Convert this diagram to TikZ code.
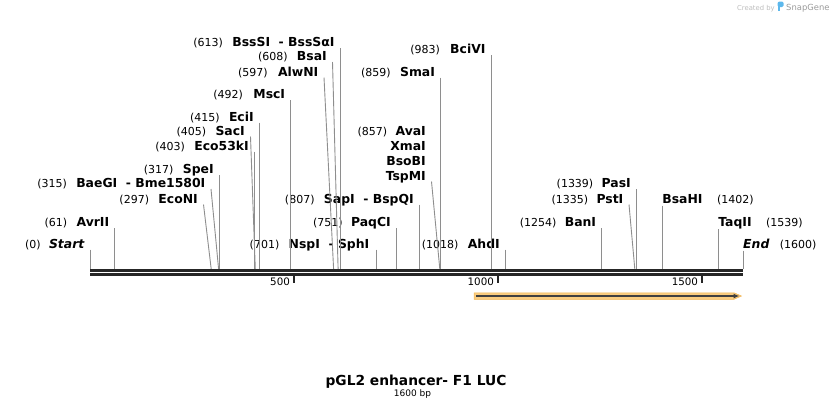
\documentclass[tikz,border=0pt]{standalone}
\usepackage{fontspec}
\setmainfont{DejaVu Sans}
\usepackage{tikz}
\usetikzlibrary{arrows.meta,positioning,calc}
\definecolor{SiteLine}{HTML}{8E8E8E}
\definecolor{MapDark}{HTML}{262626}
\definecolor{LucGlow}{HTML}{FACD80}
\definecolor{LucEdge}{HTML}{F0B555}
\definecolor{LucLine}{HTML}{404040}
\definecolor{MarkGrey}{HTML}{BDBDBD}
\definecolor{MarkDark}{HTML}{9A9A9A}
\definecolor{MarkBlue}{HTML}{5DB8EC}
\tikzset{
  enz/.style={inner sep=0pt,font=\fontsize{12.4}{14}\selectfont\bfseries},
  enzend/.style={inner sep=0pt,font=\fontsize{12.4}{14}\selectfont\bfseries\itshape},
  sitenum/.style={inner sep=0pt,font=\fontsize{11}{13}\selectfont},
  cutline/.style={draw=SiteLine,line width=.9pt},
  mapaxis/.style={draw=MapDark,line width=2.9pt,double=white,double distance=1pt},
  scaletick/.style={draw=MapDark,line width=1.6pt},
  ticklbl/.style={inner sep=0pt,font=\fontsize{10.3}{12}\selectfont},
  lucglow/.style={fill=LucGlow,draw=LucEdge,line width=.5pt},
  lucarrow/.style={-{Latex[length=6pt,width=5pt]},draw=LucLine,line width=1.5pt},
  maptitle/.style={inner sep=0pt,font=\fontsize{13.8}{16}\selectfont\bfseries},
  mapsize/.style={inner sep=0pt,font=\fontsize{9}{11}\selectfont},
  wmark/.style={inner sep=0pt,text=MarkGrey,font=\fontsize{6.8}{8}\selectfont}
}
\begin{document}
\begin{tikzpicture}[x=1pt,y=-1pt]
  \useasboundingbox (0,0) rectangle (834,408);
  \coordinate (s0) at (90,269);
  \coordinate (s61) at (114.9,269);
  \coordinate (s297) at (211.2,269);
  \coordinate (s315) at (218.6,269);
  \coordinate (s317) at (219.4,269);
  \coordinate (s403) at (254.5,269);
  \coordinate (s405) at (255.3,269);
  \coordinate (s415) at (259.4,269);
  \coordinate (s492) at (290.8,269);
  \coordinate (s597) at (333.6,269);
  \coordinate (s608) at (338.1,269);
  \coordinate (s613) at (340.2,269);
  \coordinate (s701) at (376.1,269);
  \coordinate (s751) at (396.5,269);
  \coordinate (s807) at (419.4,269);
  \coordinate (s857) at (439.8,269);
  \coordinate (s859) at (440.6,269);
  \coordinate (s983) at (491.2,269);
  \coordinate (s1018) at (505.5,269);
  \coordinate (s1254) at (601.8,269);
  \coordinate (s1335) at (634.8,269);
  \coordinate (s1339) at (636.5,269);
  \coordinate (s1402) at (662.2,269);
  \coordinate (s1539) at (718.1,269);
  \coordinate (s1600) at (743,269);

  \node[enzend,anchor=base east] (start) at (84.5,248) {Start};
  \node[sitenum,base left=8pt of start] (startn) {(0)};
  \node[enz,anchor=base east] (avr) at (109.4,226.5) {AvrII};
  \node[sitenum,base left=9pt of avr] (avrn) {(61)};
  \node[enz,anchor=base east] (econ) at (198,203) {EcoNI};
  \node[sitenum,base left=9pt of econ] (econn) {(297)};
  \node[enz,anchor=base east] (baeg) at (205.5,187.5) {BaeGI\ \ - Bme1580I};
  \node[sitenum,base left=9pt of baeg] (baegn) {(315)};
  \node[enz,anchor=base east] (spe) at (213.9,173.5) {SpeI};
  \node[sitenum,base left=9pt of spe] (spen) {(317)};
  \node[enz,anchor=base east] (eco53) at (249,150) {Eco53kI};
  \node[sitenum,base left=9pt of eco53] (eco53n) {(403)};
  \node[enz,anchor=base east] (sac) at (245,135) {SacI};
  \node[sitenum,base left=9pt of sac] (sacn) {(405)};
  \node[enz,anchor=base east] (eci) at (253.9,121) {EciI};
  \node[sitenum,base left=9pt of eci] (ecin) {(415)};
  \node[enz,anchor=base east] (msc) at (285.3,98.5) {MscI};
  \node[sitenum,base left=10pt of msc] (mscn) {(492)};
  \node[enz,anchor=base east] (alwn) at (318.5,76) {AlwNI};
  \node[sitenum,base left=10pt of alwn] (alwnn) {(597)};
  \node[enz,anchor=base east] (bsa) at (327,60.5) {BsaI};
  \node[sitenum,base left=9pt of bsa] (bsan) {(608)};
  \node[enz,anchor=base east] (bsss) at (334.7,46.5) {BssSI\ \ - BssSαI};
  \node[sitenum,base left=9pt of bsss] (bsssn) {(613)};
  \node[enz,anchor=base east] (nsp) at (369.5,248) {NspI\ \ - SphI};
  \node[sitenum,base left=9pt of nsp] (nspn) {(701)};
  \node[enz,anchor=base east] (paqc) at (391,226.5) {PaqCI};
  \node[sitenum,base left=8pt of paqc] (paqcn) {(751)};
  \node[enz,anchor=base east] (sap) at (413.9,203) {SapI\ \ - BspQI};
  \node[sitenum,base left=9pt of sap] (sapn) {(807)};
  \node[enz,anchor=base east] (ava) at (426,135) {AvaI};
  \node[enz,anchor=base east] (xma) at (426,150) {XmaI};
  \node[enz,anchor=base east] (bsob) at (426,165) {BsoBI};
  \node[enz,anchor=base east] (tspm) at (426,180) {TspMI};
  \node[sitenum,base left=8pt of ava] (avan) {(857)};
  \node[enz,anchor=base east] (sma) at (435.1,76) {SmaI};
  \node[sitenum,base left=9pt of sma] (sman) {(859)};
  \node[enz,anchor=base east] (bciv) at (485.7,53.5) {BciVI};
  \node[sitenum,base left=10pt of bciv] (bcivn) {(983)};
  \node[enz,anchor=base east] (ahd) at (500,248) {AhdI};
  \node[sitenum,base left=9pt of ahd] (ahdn) {(1018)};
  \node[enz,anchor=base east] (ban) at (596.3,226.5) {BanI};
  \node[sitenum,base left=8pt of ban] (bann) {(1254)};
  \node[enz,anchor=base east] (pst) at (623.5,203) {PstI};
  \node[sitenum,base left=8pt of pst] (pstn) {(1335)};
  \node[enz,anchor=base east] (pas) at (631,187.5) {PasI};
  \node[sitenum,base left=8pt of pas] (pasn) {(1339)};
  \node[enz,anchor=base west] (bsah) at (662.2,203) {BsaHI};
  \node[sitenum,base right=14pt of bsah] (bsahn) {(1402)};
  \node[enz,anchor=base west] (taq) at (718.1,226.5) {TaqII};
  \node[sitenum,base right=14pt of taq] (taqn) {(1539)};
  \node[enzend,anchor=base west] (fin) at (743,248) {End};
  \node[sitenum,base right=10pt of fin] (finn) {(1600)};

  \draw[cutline] ([xshift=5.5pt,yshift=-1.5pt]start.base east) -- (s0);
  \draw[cutline] ([xshift=5.5pt,yshift=-1.5pt]avr.base east) -- (s61);
  \draw[cutline] ([xshift=5.5pt,yshift=-1.5pt]econ.base east) -- (s297);
  \draw[cutline] ([xshift=5.5pt,yshift=-1.5pt]baeg.base east) -- (s315);
  \draw[cutline] ([xshift=5.5pt,yshift=-1.5pt]spe.base east) -- (s317);
  \draw[cutline] ([xshift=5.5pt,yshift=-1.5pt]eco53.base east) -- (s403);
  \draw[cutline] ([xshift=5.5pt,yshift=-1.5pt]sac.base east) -- (s405);
  \draw[cutline] ([xshift=5.5pt,yshift=-1.5pt]eci.base east) -- (s415);
  \draw[cutline] ([xshift=5.5pt,yshift=-1.5pt]msc.base east) -- (s492);
  \draw[cutline] ([xshift=5.5pt,yshift=-1.5pt]alwn.base east) -- (s597);
  \draw[cutline] ([xshift=5.5pt,yshift=-1.5pt]bsa.base east) -- (s608);
  \draw[cutline] ([xshift=5.5pt,yshift=-1.5pt]bsss.base east) -- (s613);
  \draw[cutline] ([xshift=6.6pt,yshift=-1.5pt]nsp.base east) -- (s701);
  \draw[cutline] ([xshift=5.5pt,yshift=-1.5pt]paqc.base east) -- (s751);
  \draw[cutline] ([xshift=5.5pt,yshift=-1.5pt]sap.base east) -- (s807);
  \draw[cutline] ([xshift=5.5pt,yshift=-1.5pt]tspm.base east) -- (s857);
  \draw[cutline] ([xshift=5.5pt,yshift=-1.5pt]sma.base east) -- (s859);
  \draw[cutline] ([xshift=5.5pt,yshift=-1.5pt]bciv.base east) -- (s983);
  \draw[cutline] ([xshift=5.5pt,yshift=-1.5pt]ahd.base east) -- (s1018);
  \draw[cutline] ([xshift=5.5pt,yshift=-1.5pt]ban.base east) -- (s1254);
  \draw[cutline] ([xshift=5.5pt,yshift=-1.5pt]pst.base east) -- (s1335);
  \draw[cutline] ([xshift=5.5pt,yshift=-1.5pt]pas.base east) -- (s1339);
  \draw[cutline] ([yshift=-2.5pt]bsah.base west) -- (s1402);
  \draw[cutline] ([yshift=-2.5pt]taq.base west) -- (s1539);
  \draw[cutline] ([yshift=-2.5pt]fin.base west) -- (s1600);

  \coordinate (m0) at (90,272.4);
  \coordinate (m1600) at (743,272.4);
  \draw[mapaxis] (m0) -- (m1600);
  \coordinate (t500) at (294.1,275.6);
  \coordinate (t1000) at (498.1,275.6);
  \coordinate (t1500) at (702.2,275.6);
  \draw[scaletick] (t500) -- ++(0,7.4);
  \draw[scaletick] (t1000) -- ++(0,7.4);
  \draw[scaletick] (t1500) -- ++(0,7.4);
  \node[ticklbl,anchor=base east] (l500) at (290.1,285.5) {500};
  \node[ticklbl,anchor=base east] (l1000) at (494.1,285.5) {1000};
  \node[ticklbl,anchor=base east] (l1500) at (698.2,285.5) {1500};

  \coordinate (lucL) at (476,296);
  \coordinate (lucR) at (739.5,296);
  \path[lucglow] (474,292.8) -- (734,292.8) -- (741.5,296) -- (734,299.3) -- (474,299.3) -- cycle;
  \draw[lucarrow] (lucL) -- (lucR);

  \node[maptitle,anchor=base] (title) at (416,385) {pGL2 enhancer- F1 LUC};
  \node[mapsize,below=1.5pt of title,xshift=-3.5pt] (size) {1600 bp};

  \node[wmark,anchor=base west] (made) at (737,10) {Created by};
  \path[fill=MarkBlue] (777.5,1.5) rectangle (780,11);
  \path[fill=MarkBlue,rounded corners=1.5pt] (777.5,1.5) rectangle (783.5,7);
  \node[wmark,text=MarkDark,font=\fontsize{8.4}{10}\selectfont,anchor=base west] (snap) at (786,10.5) {SnapGene};
\end{tikzpicture}
\end{document}
